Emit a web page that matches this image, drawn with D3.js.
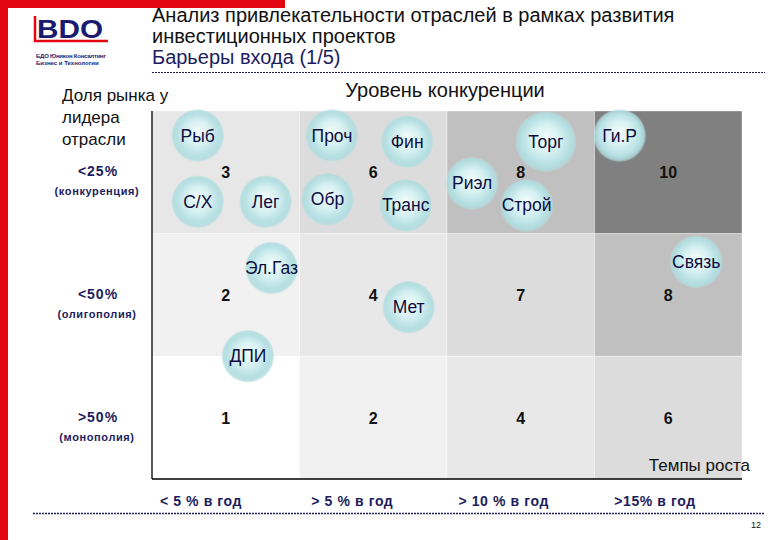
<!DOCTYPE html>
<html>
<head>
<meta charset="utf-8">
<script src="https://cdn.jsdelivr.net/npm/d3@7"></script>
<style>
  body { margin: 0; background: #fff; }
  svg { font-family: Arial, "Liberation Sans", sans-serif; }
</style>
</head>
<body>
<svg id="chart" width="780" height="540"></svg>
<script>
// данные матрицы
const growthLabels = ["< 5 % в год", "> 5 % в год", "> 10 % в год", ">15% в год"];
const shareLabels = ["<25%", "<50%", ">50%"];
const shareNotes = ["(конкуренция)", "(олигополия)", "(монополия)"];
const scores = [
    [3, 6, 8, 10],
    [2, 4, 7, 8],
    [1, 2, 4, 6]
];
// отрасли: положение в единицах сетки (столбец, строка)
const industries = ["Рыб", "Проч", "Фин", "Торг", "Ги.Р", "С/Х", "Лег", "Обр", "Транс", "Риэл", "Строй", "Эл.Газ", "ДПИ", "Мет", "Связь"];
const industryCol = [0.31, 1.22, 1.73, 2.67, 3.17, 0.31, 0.77, 1.19, 1.72, 2.17, 2.54, 0.81, 0.65, 1.74, 3.69];
const industryRow = [0.2, 0.2, 0.25, 0.25, 0.2, 0.74, 0.74, 0.72, 0.77, 0.59, 0.77, 1.28, 2.0, 1.6, 1.23];
const industrySize = [1, 1, 1, 1.15, 1, 1, 1, 1, 1, 1, 1, 1, 1, 1, 1];

const svg = d3.select("#chart");
const navy = "#1c1c5e";

const x = d3.scaleLinear().domain([0, 4]).range([152, 742]);
const y = d3.scaleLinear().domain([0, 3]).range([111, 479]);
const xLabel = d3.scalePoint().domain(growthLabels).range([201, 655]);
const colorByScore = d3.scaleOrdinal()
    .domain([1, 2, 3, 4, 6, 7, 8, 10])
    .range(["#ffffff", "#f1f1f1", "#e7e7e7", "#e8e8e8", "#dcdcdc", "#dcdcdc", "#c0c0c0", "#808080"]);

// рамки BDO
svg.append("rect").attr("x", 0).attr("y", 0).attr("width", 8).attr("height", 540).attr("fill", "#e30613");
svg.append("rect").attr("x", 0).attr("y", 0).attr("width", 285).attr("height", 8).attr("fill", "#e30613");

// логотип
svg.append("text").attr("x", 37).attr("y", 38).attr("textLength", 66).attr("lengthAdjust", "spacingAndGlyphs")
    .style("font-size", "25px").style("font-weight", "bold").attr("fill", "#1a1a70").text("BDO");
svg.append("path").attr("d", "M35,16 V41 H108").attr("fill", "none").attr("stroke", "#e30613").attr("stroke-width", 2.5);
svg.append("text").attr("x", 36).attr("y", 58).attr("textLength", 70).style("font-size", "6px").style("font-weight", "bold")
    .attr("fill", "#1a1a70").text("БДО Юникон Консалтинг");
svg.append("text").attr("x", 36).attr("y", 65).style("font-size", "6px").style("font-weight", "bold")
    .attr("fill", "#1a1a70").text("Бизнес и Технологии");

// заголовок
svg.append("text").attr("x", 152).attr("y", 22).style("font-size", "20px").attr("fill", "#111")
    .text("Анализ привлекательности отраслей в рамках развития");
svg.append("text").attr("x", 152).attr("y", 43).style("font-size", "20px").attr("fill", "#111")
    .text("инвестиционных проектов");
svg.append("text").attr("x", 152).attr("y", 64).style("font-size", "20px").attr("fill", navy)
    .text("Барьеры входа (1/5)");

svg.append("line").attr("x1", 152).attr("x2", 765).attr("y1", 72.5).attr("y2", 72.5)
    .attr("stroke", navy).attr("stroke-width", 1).attr("stroke-dasharray", "2,1");
svg.append("line").attr("x1", 33).attr("x2", 765).attr("y1", 513.5).attr("y2", 513.5)
    .attr("stroke", navy).attr("stroke-width", 1.3).attr("stroke-dasharray", "2,1");

// ячейки
const cells = [];
scores.forEach((row, r) => row.forEach((s, c) => cells.push({ r, c, s })));

svg.append("g").selectAll("rect")
    .data(cells)
    .enter()
    .append("rect")
    .attr("x", d => x(d.c))
    .attr("y", d => y(d.r))
    .attr("width", x(1) - x(0))
    .attr("height", y(1) - y(0))
    .attr("fill", d => colorByScore(d.s))
    .attr("stroke", "rgba(255,255,255,0.35)")
    .attr("stroke-width", 1);

svg.append("g").selectAll("text")
    .data(cells)
    .enter()
    .append("text")
    .attr("x", d => x(d.c + 0.5))
    .attr("y", d => y(d.r + 0.5) + 6)
    .attr("text-anchor", "middle")
    .style("font-size", "16px")
    .style("font-weight", "bold")
    .attr("fill", "#111")
    .text(d => d.s);

// оси
svg.append("line").attr("x1", 152).attr("x2", 152).attr("y1", y(0)).attr("y2", y(3))
    .attr("stroke", "#000").attr("stroke-width", 1.3);
svg.append("line").attr("x1", 152).attr("x2", x(4)).attr("y1", y(3)).attr("y2", y(3))
    .attr("stroke", "#000").attr("stroke-width", 1.3);

// пузыри
const grad = svg.append("defs").append("radialGradient").attr("id", "bubble")
    .attr("cx", "50%").attr("cy", "50%").attr("r", "50%").attr("fx", "50%").attr("fy", "42%");
grad.append("stop").attr("offset", "0%").attr("stop-color", "#f2fcfc");
grad.append("stop").attr("offset", "45%").attr("stop-color", "#d8f1f2");
grad.append("stop").attr("offset", "80%").attr("stop-color", "#b6e0e3");
grad.append("stop").attr("offset", "93%").attr("stop-color", "#b0dcdf").attr("stop-opacity", 0.85);
grad.append("stop").attr("offset", "100%").attr("stop-color", "#b8e0e2").attr("stop-opacity", 0.2);

const bubbles = svg.append("g").selectAll("g")
    .data(industries.map((name, i) => ({ name, c: industryCol[i], r: industryRow[i], k: industrySize[i] })))
    .enter()
    .append("g")
    .attr("transform", d => `translate(${x(d.c)},${y(d.r)})`);

bubbles.append("circle")
    .attr("r", d => 26.5 * d.k)
    .attr("fill", "url(#bubble)");

bubbles.append("text")
    .attr("text-anchor", "middle")
    .attr("y", 6)
    .style("font-size", "17.5px")
    .attr("fill", "#0d0d40")
    .text(d => d.name);

// подписи осей
svg.append("text").attr("x", 445).attr("y", 97).attr("text-anchor", "middle")
    .style("font-size", "20px").attr("fill", "#111").text("Уровень конкуренции");
["Доля рынка у", "лидера", "отрасли"].forEach((t, i) => {
    svg.append("text").attr("x", 62).attr("y", 101 + i * 22)
        .style("font-size", "17px").attr("fill", "#111").text(t);
});
svg.append("text").attr("x", 750).attr("y", 471).attr("text-anchor", "end")
    .style("font-size", "17px").attr("fill", "#111").text("Темпы роста");

svg.append("g").selectAll("text.share")
    .data(shareLabels)
    .enter()
    .append("text")
    .attr("x", 98)
    .attr("y", (d, i) => y(i + 0.5) + 4)
    .attr("text-anchor", "middle")
    .style("font-size", "14px").style("font-weight", "bold").style("letter-spacing", "1px")
    .attr("fill", navy)
    .text(d => d);

svg.append("g").selectAll("text.note")
    .data(shareNotes)
    .enter()
    .append("text")
    .attr("x", 97)
    .attr("y", (d, i) => y(i + 0.5) + 23)
    .attr("text-anchor", "middle")
    .style("font-size", "11px").style("font-weight", "bold").style("letter-spacing", "0.6px")
    .attr("fill", navy)
    .text(d => d);

svg.append("g").selectAll("text.growth")
    .data(growthLabels)
    .enter()
    .append("text")
    .attr("x", d => xLabel(d))
    .attr("y", 506)
    .attr("text-anchor", "middle")
    .style("font-size", "14px").style("font-weight", "bold").style("letter-spacing", "0.6px")
    .attr("fill", navy)
    .text(d => d);

svg.append("text").attr("x", 761).attr("y", 528).attr("text-anchor", "end")
    .style("font-size", "9px").attr("fill", "#111").text("12");
</script>
</body>
</html>
